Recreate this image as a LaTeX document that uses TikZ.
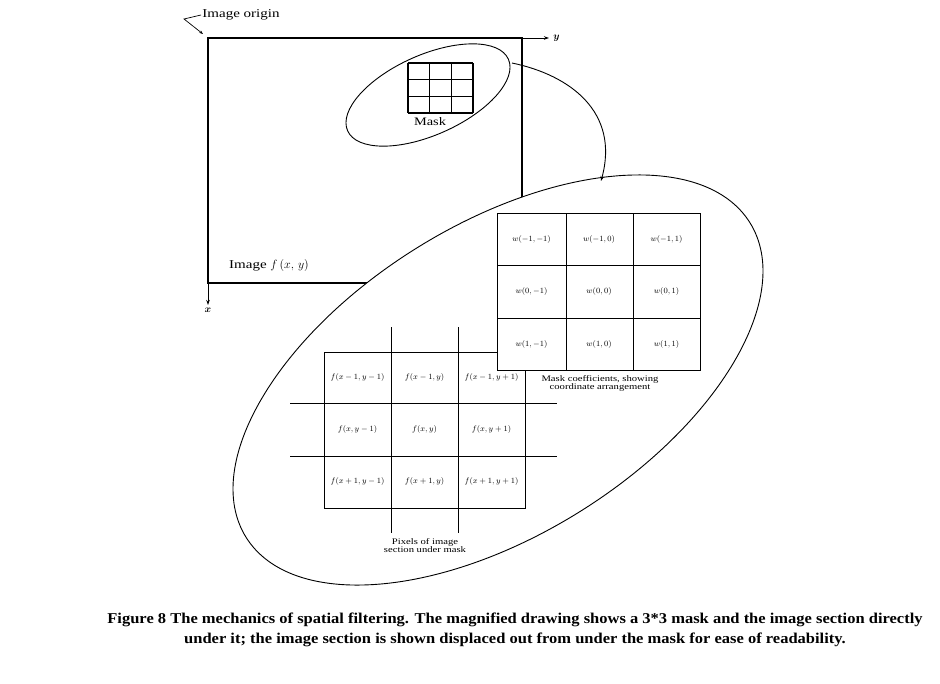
\documentclass[tikz,border=0pt]{standalone}
\usepackage{amsmath}
\usepackage{fontspec}
\setmainfont{Liberation Serif}
\newfontfamily\lblfont[FakeStretch=1.25]{Liberation Serif}
\newfontfamily\capfont[FakeStretch=1.1]{Liberation Serif}
\usetikzlibrary{arrows.meta}

\begin{document}
\begin{tikzpicture}[x=1pt,y=-1pt,line width=0.9pt]
        \useasboundingbox (0,0) rectangle (940,683);

        % image f(x,y) with its axes
        \coordinate (org) at (208,38);
        \coordinate (yend) at (549,38);
        \coordinate (xend) at (208,305);
        \draw[line width=1.1pt] (org) rectangle (522,283);
        \draw[-{Stealth[length=5pt,width=3.5pt]}] (522,38) -- (yend);
        \draw[-{Stealth[length=5pt,width=3.5pt]}] (208,283) -- (xend);
        \node[right, inner sep=4pt] (ylab) at (yend) {$\boldsymbol{y}$};
        \node[below, inner sep=3pt] (xlab) at (xend) {$\boldsymbol{x}$};
        \node[right, inner sep=1pt] (orglab) at (201,15) {\lblfont\fontsize{12}{14}\selectfont Image origin};
        \coordinate (orgbend) at (184,19);
        \coordinate (orgtip) at (203,34);
        \draw[-{Stealth[length=4pt,width=3pt]}, line width=0.7pt] (orglab.west) -- (orgbend) -- (orgtip);
        \node (imglab) at (269,265) {\lblfont\fontsize{12}{14}\selectfont Image $f\,(x,\,y)$};

        % small mask over the image
        \draw[rotate around={24:(428,95)}] (428,95) ellipse (88 and 40);
        \foreach \i in {0,1,2,3}
        {
            \draw[line width=1.1pt] (408+21.67*\i,63) -- (408+21.67*\i,113);
            \draw[line width=1.1pt] (408,63+16.67*\i) -- (473,63+16.67*\i);
        }
        \node (masklab) at (430,122) {\lblfont\fontsize{11.5}{13}\selectfont Mask};

        % magnified view
        \draw[fill=white, rotate around={32:(498,380)}] (498,380) ellipse (297 and 155);

        % image section under the mask
        \draw (324,352) rectangle (525,508);
        \foreach \x in {391,458}
            \draw (\x,327) -- (\x,533);
        \foreach \y in {403,456}
            \draw (290,\y) -- (557,\y);
        \foreach \r/\xs in {0/{x-1},1/{x},2/{x+1}}
        \foreach \c/\ys in {0/{y-1},1/{y},2/{y+1}}
            \node[font=\fontsize{8}{9}\selectfont] (f\r\c) at (357.5+67*\c,377.5+52.2*\r) {$f(\xs,\ys)$};
        \node[align=center, font=\lblfont\fontsize{8.5}{8}\selectfont] (flab) at (425,546) {Pixels of image\\section under mask};

        % mask coefficients
        \draw[fill=white] (497,213) rectangle (700,370);
        \foreach \x in {566,633}
            \draw (\x,213) -- (\x,370);
        \foreach \y in {265,318}
            \draw (497,\y) -- (700,\y);
        \foreach \r/\s in {0/-1,1/0,2/1}
        \foreach \c/\t in {0/-1,1/0,2/1}
            \node[font=\fontsize{8}{9}\selectfont] (w\r\c) at (531.5+67.5*\c,239+52.5*\r) {$w(\s,\t)$};
        \node[align=center, font=\lblfont\fontsize{8.5}{8}\selectfont] (wlab) at (600,383) {Mask coefficients, showing\\coordinate arrangement};

        % from the mask to the magnified view
        \coordinate (magfrom) at (512,63);
        \coordinate (magto) at (601,181);
        \draw[-{Stealth[length=5pt,width=3.5pt]}] (magfrom) .. controls (570,75) and (620,112) .. (magto);

        \node[align=center, font=\capfont\fontsize{15}{20}\selectfont\bfseries] (caption) at (515,630)
            {Figure 8 The mechanics of spatial filtering. The magnified drawing shows a 3*3 mask and the image section directly\\
             under it; the image section is shown displaced out from under the mask for ease of readability.};
    \end{tikzpicture}
\end{document}
